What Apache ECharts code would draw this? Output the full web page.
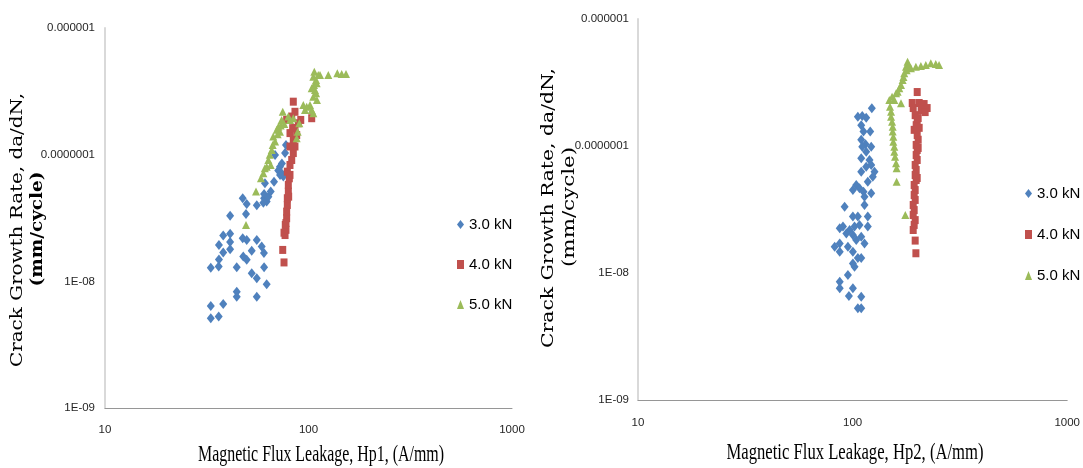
<!DOCTYPE html>
<html>
<head>
<meta charset="utf-8">
<title>Crack growth rate vs magnetic flux leakage</title>
<script src="https://cdn.jsdelivr.net/npm/echarts@6/dist/echarts.min.js"></script>
<style>
  html, body { margin: 0; padding: 0; background: #fff; }
  #chart { width: 1083px; height: 468px; }
</style>
</head>
<body>
<div id="chart"></div>
<script>
// ---- data: [magnetic flux leakage (A/mm), da/dN (mm/cycle)] ----
const seriesNames = ['3.0 kN', '4.0 kN', '5.0 kN'];

// Hp1 panel
const hp1Load30 = [
  [33.1,5.12e-9],[36.2,5.27e-9],[33.1,6.40e-9],[38.1,6.63e-9],[44.4,7.57e-9],[44.4,8.29e-9],
  [55.7,7.57e-9],[33.1,1.28e-8],[36.2,1.31e-8],[36.3,1.49e-8],[38.1,1.69e-8],[36.3,1.94e-8],
  [38.1,2.30e-8],[41.2,2.37e-8],[41.2,2.04e-8],[41.2,1.79e-8],[44.4,1.29e-8],[47.5,2.19e-8],
  [49.7,2.12e-8],[47.8,1.57e-8],[49.7,1.48e-8],[52.6,1.74e-8],[55.7,2.12e-8],[58.9,1.88e-8],
  [60.4,1.67e-8],[52.6,1.16e-8],[55.7,1.06e-8],[60.5,1.29e-8],[62.3,9.49e-9],[41.2,3.30e-8],
  [47.5,4.53e-8],[49.7,4.08e-8],[49.3,3.40e-8],[55.7,3.99e-8],[60.5,4.53e-8],[60.5,4.90e-8],
  [62.3,4.26e-8],[60.0,4.18e-8],[63.5,4.66e-8],[61.1,5.95e-8],[67.7,6.12e-8],[65.2,5.11e-8],
  [68.5,9.95e-8],[72.4,8.04e-8],[73.8,7.13e-8],[75.2,6.71e-8],[76.7,1.03e-7],[77.5,1.19e-7],
  [71.0,7.50e-8],[74.0,8.50e-8],[72.5,6.90e-8]
];
const hp1Load40 = [
  [75.8,1.41e-8],[74.7,1.77e-8],[76.7,2.32e-8],[77.5,2.55e-8],[76.9,2.79e-8],[78.1,3.15e-8],
  [78.1,3.55e-8],[78.7,4.01e-8],[78.7,4.53e-8],[79.6,5.11e-8],[79.6,5.77e-8],[80.5,6.51e-8],
  [78.7,7.34e-8],[81.1,6.92e-8],[81.1,8.29e-8],[82.7,9.08e-8],[84.2,1.03e-7],[85.8,1.16e-7],
  [84.2,1.31e-7],[87.5,1.43e-7],[81.1,1.48e-7],[85.8,1.62e-7],[89.1,1.77e-7],[78.1,1.88e-7],
  [82.7,2.00e-7],[85.8,2.18e-7],[84.2,2.62e-7],[91.6,1.88e-7],[103.7,1.94e-7],[81.1,1.16e-7],
  [83.6,1.62e-7],[79.9,4.66e-8],[77.5,2.89e-8],[75.8,2.42e-8]
];
const hp1Load50 = [
  [49.3,2.79e-8],[55.2,5.11e-8],[58.4,6.51e-8],[60.0,7.13e-8],[62.3,8.04e-8],[63.5,9.08e-8],
  [65.2,8.29e-8],[66.0,1.09e-7],[66.7,1.19e-7],[68.5,1.27e-7],[67.1,1.39e-7],[69.8,1.57e-7],
  [71.1,1.66e-7],[72.4,1.52e-7],[73.8,1.88e-7],[74.7,2.18e-7],[79.6,2.00e-7],[81.1,1.88e-7],
  [84.2,1.94e-7],[88.5,1.52e-7],[87.5,1.35e-7],[90.1,1.77e-7],[96.1,2.25e-7],[101.7,2.47e-7],
  [103.7,2.25e-7],[105.6,2.87e-7],[107.6,3.24e-7],[106.4,3.55e-7],[108.9,3.89e-7],[105.6,4.13e-7],
  [106.8,4.52e-7],[111.7,4.26e-7],[109.7,3.66e-7],[108.9,3.05e-7],[113.9,4.26e-7],[125.1,4.26e-7],
  [138.5,4.39e-7],[145.6,4.34e-7],[152.9,4.34e-7],[110.0,2.70e-7],[105.6,2.12e-7],[103.7,3.34e-7],
  [94.3,2.47e-7],[98.0,2.39e-7],[70.5,1.45e-7],[73.0,1.70e-7],[76.0,1.75e-7],[64.5,1.00e-7],
  [61.0,7.80e-8]
];

// Hp2 panel
const hp2Load30 = [
  [105.8,1.70e-7],[110.9,1.72e-7],[115.7,1.67e-7],[122.9,1.98e-7],[109.7,1.46e-7],[112.4,1.30e-7],
  [120.8,1.30e-7],[109.7,1.12e-7],[114.9,1.03e-7],[110.9,9.87e-8],[122.1,9.87e-8],[115.7,9.02e-8],
  [109.7,8.00e-8],[119.9,7.76e-8],[122.1,7.09e-8],[115.7,6.87e-8],[126.5,6.28e-8],[109.7,6.28e-8],
  [124.2,5.73e-8],[117.7,5.24e-8],[104.0,4.93e-8],[100.3,4.50e-8],[107.7,4.64e-8],[112.4,4.37e-8],
  [122.1,4.24e-8],[113.6,3.99e-8],[113.6,3.43e-8],[91.8,3.33e-8],[87.1,2.25e-8],[90.2,2.32e-8],
  [96.9,2.18e-8],[102.1,2.32e-8],[107.7,2.39e-8],[117.7,2.32e-8],[82.5,1.61e-8],[87.1,1.71e-8],
  [93.5,2.05e-8],[100.3,1.99e-8],[104.0,1.82e-8],[109.7,1.93e-8],[113.6,1.71e-8],[87.1,1.47e-8],
  [95.1,1.61e-8],[100.3,1.47e-8],[105.8,1.31e-8],[109.7,1.31e-8],[102.1,1.12e-8],[95.1,9.65e-9],
  [87.1,8.54e-9],[87.1,7.58e-9],[100.3,7.58e-9],[96.1,6.59e-9],[109.7,6.51e-9],[105.8,5.27e-9],
  [109.7,5.27e-9],[100.3,2.78e-8],[105.8,2.78e-8],[117.7,2.78e-8],[100.3,1.19e-8]
];
const hp2Load40 = [
  [200.0,2.66e-7],[189.6,2.18e-7],[204.3,2.18e-7],[215.4,2.14e-7],[222.5,1.99e-7],[191.6,1.99e-7],
  [208.7,1.92e-7],[217.8,1.85e-7],[195.7,1.75e-7],[200.0,1.60e-7],[197.8,1.46e-7],[193.6,1.34e-7],
  [200.0,1.22e-7],[202.1,1.12e-7],[197.8,1.02e-7],[200.0,9.30e-8],[197.8,8.49e-8],[200.0,7.76e-8],
  [195.7,7.09e-8],[197.8,6.47e-8],[195.7,5.91e-8],[197.8,5.40e-8],[193.6,4.93e-8],[195.7,4.50e-8],
  [193.6,4.11e-8],[195.7,3.76e-8],[191.6,3.43e-8],[193.6,3.13e-8],[191.6,2.86e-8],[195.7,2.61e-8],
  [193.6,2.39e-8],[191.6,2.18e-8],[195.7,1.80e-8],[197.2,1.43e-8],[202.1,1.66e-7],[204.3,1.39e-7],
  [202.1,9.65e-8],[200.0,5.60e-8]
];
const hp2Load50 = [
  [180.3,4.61e-7],[177.3,4.21e-7],[187.0,4.09e-7],[197.2,4.21e-7],[208.0,4.27e-7],[219.4,4.34e-7],
  [231.4,4.48e-7],[244.1,4.42e-7],[252.8,4.34e-7],[174.1,3.74e-7],[171.0,3.31e-7],[168.1,3.02e-7],
  [165.1,2.85e-7],[162.1,2.68e-7],[159.4,2.60e-7],[152.7,2.44e-7],[156.4,2.30e-7],[168.1,2.17e-7],
  [148.3,2.30e-7],[149.4,2.04e-7],[151.1,1.86e-7],[151.1,1.70e-7],[152.7,1.55e-7],[153.7,1.42e-7],
  [153.7,1.30e-7],[154.8,1.18e-7],[154.8,1.08e-7],[156.4,9.87e-8],[156.4,9.02e-8],[157.7,8.24e-8],
  [159.4,7.31e-8],[160.4,6.68e-8],[160.4,5.24e-8],[176.0,2.86e-8],[183.0,4.30e-7],[172.5,3.50e-7],
  [178.5,3.95e-7]
];

// ---- axis ticks ----
const xTickValues = [10, 100, 1000];
const xTickLabels = ['10', '100', '1000'];
const yTickValues = [1e-9, 1e-8, 1e-7, 1e-6];
const yTickLabels = ['1E-09', '1E-08', '0.0000001', '0.000001'];

// ---- text ----
const yTitleLine1 = 'Crack Growth Rate, da/dN,';
const yTitleLine2 = '(mm/cycle)';
const xTitles = ['Magnetic Flux Leakage, Hp1, (A/mm)', 'Magnetic Flux Leakage, Hp2, (A/mm)'];

// ---- styling ----
const colors = ['#4f81bd', '#c0504d', '#9bbb59'];
const symbols = ['diamond', 'rect', 'triangle'];
const symbolSizes = [[8, 10], [7, 8], [8, 8]];
const sans = "'Liberation Sans', Arial, sans-serif";

function labelFor(values, labels) {
  return function (v) {
    const lv = Math.log10(v);
    let best = 0;
    for (let i = 1; i < values.length; i++) {
      if (Math.abs(Math.log10(values[i]) - lv) < Math.abs(Math.log10(values[best]) - lv)) best = i;
    }
    return labels[best];
  };
}

const grids = [
  { left: 105, top: 28, width: 407, height: 380 },
  { left: 638, top: 19, width: 432, height: 381 }
];

function xAxisFor(gridIndex, margin) {
  return {
    type: 'log', logBase: 10, gridIndex,
    min: xTickValues[0], max: xTickValues[xTickValues.length - 1],
    axisLine: { show: true, lineStyle: { color: '#969696', width: 1 } },
    axisTick: { show: false },
    splitLine: { show: false },
    minorTick: { show: false },
    axisLabel: {
      margin, fontFamily: sans, fontSize: 11.5, color: '#262626',
      formatter: labelFor(xTickValues, xTickLabels)
    }
  };
}
function yAxisFor(gridIndex, margin) {
  return {
    type: 'log', logBase: 10, gridIndex,
    min: yTickValues[0], max: yTickValues[yTickValues.length - 1],
    axisLine: { show: true, lineStyle: { color: '#d9d9d9', width: 2 } },
    axisTick: { show: false },
    splitLine: { show: false },
    axisLabel: {
      margin, fontFamily: sans, fontSize: 11.5, color: '#262626',
      formatter: labelFor(yTickValues, yTickLabels)
    }
  };
}

const panelData = [[hp1Load30, hp1Load40, hp1Load50], [hp2Load30, hp2Load40, hp2Load50]];
const series = [];
panelData.forEach(function (sets, p) {
  sets.forEach(function (d, i) {
    series.push({
      type: 'scatter', name: seriesNames[i],
      xAxisIndex: p, yAxisIndex: p,
      data: d,
      symbol: symbols[i], symbolSize: symbolSizes[i],
      itemStyle: { color: colors[i], opacity: 1 },
      emphasis: { disabled: true },
      animation: false
    });
  });
});

function legendAt(left, top, gap) {
  return {
    orient: 'vertical', left, top,
    itemWidth: 7, itemHeight: 9, itemGap: gap,
    data: seriesNames.map(function (n, i) { return { name: n, icon: symbols[i] }; }),
    textStyle: { fontFamily: sans, fontSize: 15, color: '#000' },
    selectedMode: false
  };
}

// text measurement so that titles can be stretched to their drawn length
const mctx = document.createElement('canvas').getContext('2d');
function textWidth(text, size, family, weight) {
  mctx.font = (weight || 'normal') + ' ' + size + 'px ' + family;
  return mctx.measureText(text).width;
}
function title(text, cx, cy, size, family, length, vertical, weight) {
  const w = textWidth(text, size, family, weight);
  return {
    type: 'text', x: cx, y: cy,
    rotation: vertical ? Math.PI / 2 : 0,
    scaleX: length / w, scaleY: 1,
    silent: true,
    style: {
      text, fontSize: size, fontFamily: family, fontWeight: weight || 'normal',
      fill: '#000', align: 'center', verticalAlign: 'middle',
      textAlign: 'center', textVerticalAlign: 'middle'
    }
  };
}
const ySerif = "'DejaVu Serif', serif";
const xSerif = "'Liberation Serif', 'Times New Roman', serif";

const chart = echarts.init(document.getElementById('chart'), null, { renderer: 'canvas' });
chart.setOption({
  backgroundColor: '#ffffff',
  animation: false,
  grid: grids,
  xAxis: [xAxisFor(0, 16), xAxisFor(1, 17)],
  yAxis: [yAxisFor(0, 10), yAxisFor(1, 9)],
  legend: [legendAt(452, 212, 25), legendAt(1020, 181, 26)],
  series,
  graphic: [
    title(yTitleLine1, 18, 230, 17, ySerif, 274, true),
    title(yTitleLine2, 38, 229, 17, ySerif, 115, true, 'bold'),
    title(yTitleLine1, 549, 208, 17, ySerif, 280, true),
    title(yTitleLine2, 570, 207, 17, ySerif, 120, true),
    title(xTitles[0], 321, 455, 24, xSerif, 246, false),
    title(xTitles[1], 855, 453, 24, xSerif, 257, false)
  ]
});
</script>
</body>
</html>
